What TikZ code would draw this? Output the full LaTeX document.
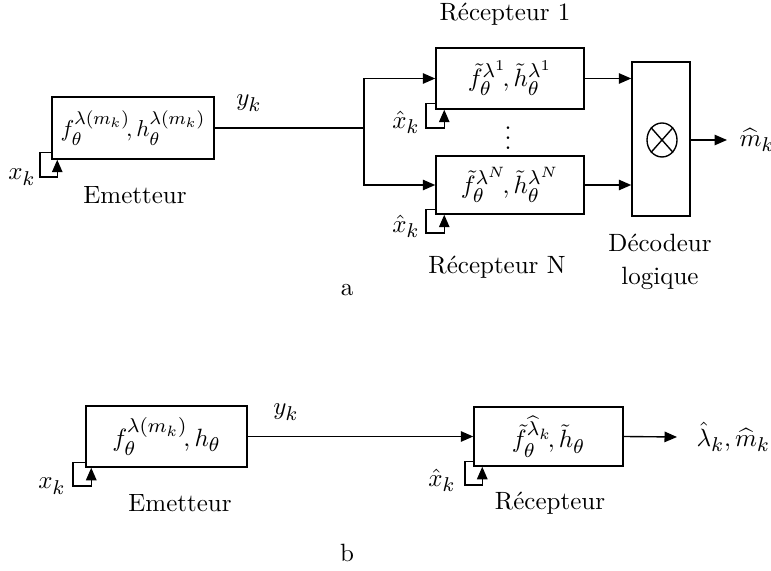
\documentclass[tikz,border=0pt]{standalone}
\usepackage{amsmath,amssymb,graphicx}
\DeclareMathSizes{10}{10}{8}{6.5}
\usetikzlibrary{arrows.meta,shapes.geometric,calc}
\def\pxu{0.40pt}
\tikzset{
  every picture/.style={line width=0.55pt},
  box/.style={draw, line width=0.6pt, inner sep=0pt},
  arr/.style={-{Triangle[length=5pt,width=4.2pt]}},
  lab/.style={inner sep=0pt},
}
\begin{document}
\begin{tikzpicture}[x=\pxu,y=-\pxu]
\useasboundingbox (0,0) rectangle (771,571);
% ---------- part a ----------
\node[box, minimum width=162*\pxu, minimum height=62*\pxu] (e1) at (133,128)
  {\scalebox{0.92}{$f_\theta^{\lambda(m_k)}\!,h_\theta^{\lambda(m_k)}$}};
\coordinate (l1) at (40,177);
\draw[arr] ([yshift=7*\pxu]e1.south west) -| (l1) -| ([xshift=6*\pxu]e1.south west);
\node[lab] (xk1) at (22,177) {$x_k$};
\node[lab] (em1) at (135,195) {Emetteur};
\node[lab] (yk1) at (249,103) {$y_k$};

\coordinate (br) at (364,128);
\node[box, minimum width=148*\pxu, minimum height=61*\pxu] (r1) at (510,78.5)
  {$\tilde f_\theta^{\lambda^1}\!,\tilde h_\theta^{\lambda^1}$};
\node[box, minimum width=148*\pxu, minimum height=58*\pxu] (rN) at (510,185)
  {$\tilde f_\theta^{\lambda^N}\!,\tilde h_\theta^{\lambda^N}$};
\draw (e1.east) -- (br);
\draw[arr] (br) |- (r1.west);
\draw[arr] (br) |- (rN.west);
\coordinate (l2) at (426,128);
\draw[arr] ([yshift=6*\pxu]r1.south west) -| (l2) -| ([xshift=9*\pxu]r1.south west);
\coordinate (l3) at (426,233);
\draw[arr] ([yshift=5*\pxu]rN.south west) -| (l3) -| ([xshift=9*\pxu]rN.south west);
\node[lab] (xh1) at (406,122) {$\hat x_k$};
\node[lab] (xh2) at (406,226) {$\hat x_k$};
\node[lab] (dots) at (508,131) {$\vdots$};
\node[lab] (rec1) at (505,14) {R\'ecepteur 1};
\node[lab] (recN) at (497,267) {R\'ecepteur N};

\node[box, minimum width=58*\pxu, minimum height=154*\pxu] (d) at (661,139) {};
\node[draw, ellipse, minimum width=30*\pxu, minimum height=34*\pxu, inner sep=0pt] (ot) at (662,140) {};
\draw (ot.north east) -- (ot.south west);
\draw (ot.north west) -- (ot.south east);
\draw[arr] (r1.east) -- (d.west |- r1.east);
\draw[arr] (rN.east) -- (d.west |- rN.east);
\node[lab, anchor=west] (mk) at (739,140) {$\widehat m_k$};
\draw[arr] (d.east |- ot.center) -- ([xshift=-12*\pxu]mk.west);
\node[lab, align=center] (dec) at (660,262) {D\'ecodeur\\[1pt]logique};
\node[lab] (a) at (347,290) {a};

% ---------- part b ----------
\node[box, minimum width=161*\pxu, minimum height=61*\pxu] (e2) at (166.5,436.5)
  {$f_\theta^{\lambda(m_k)}\!,h_\theta$};
\coordinate (l4) at (73,486);
\draw[arr] ([yshift=5*\pxu]e2.south west) -| (l4) -| ([xshift=6*\pxu]e2.south west);
\node[lab] (xk2) at (52,486) {$x_k$};
\node[lab] (em2) at (180,503) {Emetteur};
\node[lab] (yk2) at (286,412) {$y_k$};

\node[box, minimum width=149*\pxu, minimum height=59*\pxu] (r2) at (548.5,436.5)
  {$\tilde f_\theta^{\widehat\lambda_k}\!,\tilde h_\theta$};
\draw[arr] (e2.east) -- (r2.west);
\coordinate (l5) at (465,485);
\draw[arr] ([yshift=5*\pxu]r2.south west) -| (l5) -| ([xshift=9*\pxu]r2.south west);
\node[lab] (xh3) at (442,480) {$\hat x_k$};
\node[lab] (rec2) at (550,503) {R\'ecepteur};
\node[lab, anchor=west] (lm) at (696,437) {$\hat\lambda_k,\widehat m_k$};
\draw[arr] (r2.east) -- ([xshift=-19*\pxu]lm.west);
\node[lab] (b) at (347,553) {b};
\end{tikzpicture}
\end{document}
